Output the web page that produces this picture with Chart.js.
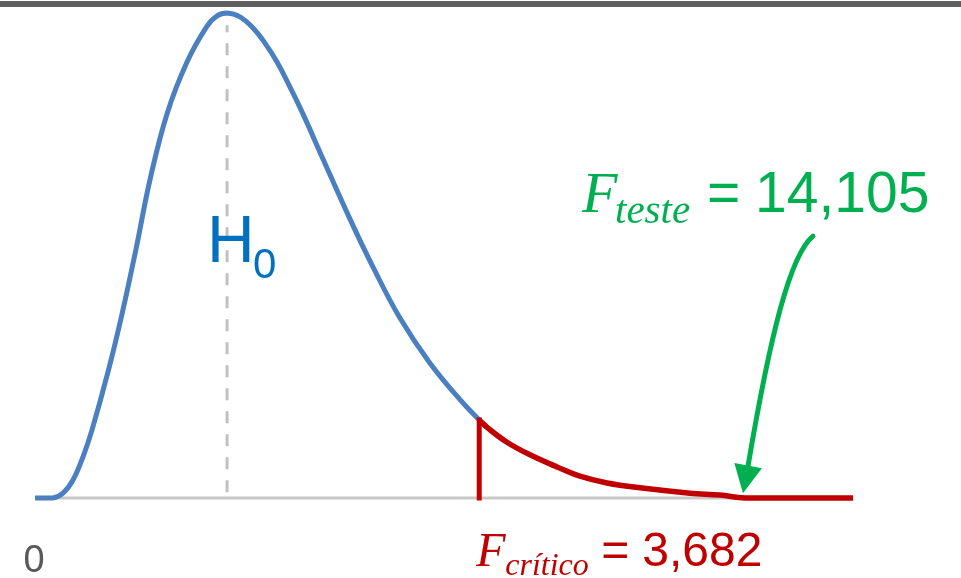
<!DOCTYPE html>
<html>
<head>
<meta charset="utf-8">
<script src="https://cdn.jsdelivr.net/npm/chart.js@4.4.1/dist/chart.umd.min.js"></script>
<style>
  body { margin: 0; background: #fff; }
  #wrap { position: relative; width: 961px; height: 578px; }
  #topbar { position: absolute; left: 0; top: 1px; width: 100%; height: 6px; background: #5f5f5f; }
</style>
</head>
<body>
<div id="wrap">
  <canvas id="fChart"></canvas>
  <div id="topbar"></div>
</div>
<script>
// F distribution under H0 (density normalised so the mode is 1)
const bodyF = [0, 0.149, 0.232, 0.315, 0.398, 0.472, 0.605, 0.721, 0.837, 0.953, 1.094, 1.260,
    1.426, 1.509, 1.592, 1.699, 1.807, 1.906, 2.006, 2.114, 2.221, 2.387, 2.611, 2.802,
    3.025, 3.274, 3.547, 3.682];
const bodyDensity = [0, 0, 0.010, 0.037, 0.085, 0.140, 0.260, 0.379, 0.513, 0.656, 0.792, 0.899,
    0.973, 0.994, 1.000, 0.992, 0.969, 0.938, 0.899, 0.847, 0.792, 0.699, 0.575, 0.476,
    0.371, 0.278, 0.196, 0.161];

// rejection region (right tail)
const tailF = [3.682, 3.755, 3.912, 4.103, 4.327, 4.517, 4.741, 5.014, 5.429, 5.678, 5.885, 6.78];
const tailDensity = [0.161, 0.144, 0.115, 0.089, 0.064, 0.045, 0.031, 0.021, 0.010, 0.006, 0, 0];

const fCritico = 3.682;
const fTeste = 14.105;
const modeF = 1.592;
const axisMax = 6.78;

// arrow pointing at the test statistic: tail, two control points, shaft end, tip
const arrowF = [6.448, 6.258, 6.092, 5.910, 5.868];
const arrowDensity = [0.540, 0.501, 0.334, 0.066, 0.010];

const fmt = v => v.toFixed(3).replace('.', ',');
const toPoints = (xs, ys) => xs.map((x, i) => ({ x, y: ys[i] }));

const labelsPlugin = {
  id: 'labels',
  afterDatasetsDraw(chart) {
    const { ctx, scales: { x, y } } = chart;
    ctx.save();

    // curved arrow
    const p = arrowF.map((f, i) => ({ x: x.getPixelForValue(f), y: y.getPixelForValue(arrowDensity[i]) }));
    ctx.strokeStyle = '#00b050';
    ctx.fillStyle = '#00b050';
    ctx.lineWidth = 5;
    ctx.lineCap = 'round';
    ctx.beginPath();
    ctx.moveTo(p[0].x, p[0].y);
    ctx.bezierCurveTo(p[1].x, p[1].y, p[2].x, p[2].y, p[3].x, p[3].y);
    ctx.stroke();
    const ang = Math.atan2(p[4].y - p[3].y, p[4].x - p[3].x);
    const len = 28, half = 14;
    const bx = p[4].x - Math.cos(ang) * len, by = p[4].y - Math.sin(ang) * len;
    ctx.beginPath();
    ctx.moveTo(p[4].x, p[4].y);
    ctx.lineTo(bx + Math.sin(ang) * half, by - Math.cos(ang) * half);
    ctx.lineTo(bx - Math.sin(ang) * half, by + Math.cos(ang) * half);
    ctx.closePath();
    ctx.fill();

    ctx.textBaseline = 'alphabetic';
    ctx.textAlign = 'left';

    // H0
    ctx.fillStyle = '#0070c0';
    ctx.font = '66px "Liberation Sans"';
    ctx.fillText('H', 207, 262);
    ctx.font = '42px "Liberation Sans"';
    ctx.fillText('0', 253, 278);

    // F teste
    ctx.fillStyle = '#00b050';
    ctx.font = 'italic 58px "Liberation Serif"';
    ctx.fillText('F', 582, 212);
    ctx.font = 'italic 41px "Liberation Serif"';
    ctx.fillText('teste', 615, 223);
    ctx.font = '57px "Liberation Sans"';
    ctx.fillText('=', 707, 212);
    ctx.fillText(fmt(fTeste), 755, 212);

    // F crítico, anchored on the critical value
    const cx = x.getPixelForValue(fCritico);
    ctx.fillStyle = '#c00000';
    ctx.font = 'italic 48px "Liberation Serif"';
    ctx.fillText('F', cx - 3, 566);
    ctx.font = 'italic 32px "Liberation Serif"';
    ctx.fillText('crítico', cx + 26, 575);
    ctx.font = '48px "Liberation Sans"';
    ctx.fillText('=', cx + 122, 566);
    ctx.fillText(fmt(fCritico), cx + 163, 566);

    // origin tick
    ctx.fillStyle = '#595959';
    ctx.font = '38px "Liberation Sans"';
    ctx.textAlign = 'center';
    ctx.fillText('0', x.getPixelForValue(0) - 1, 572);

    ctx.restore();
  }
};

new Chart(document.getElementById('fChart'), {
  type: 'scatter',
  data: {
    datasets: [
      {
        // baseline
        data: toPoints([0, axisMax], [0, 0]),
        borderColor: '#c8c8c8', borderWidth: 3, order: 5
      },
      {
        // mode marker
        data: toPoints([modeF, modeF], [0.012, 0.975]),
        borderColor: '#c0c0c0', borderWidth: 3, borderDash: [12, 11], order: 4
      },
      {
        data: toPoints(bodyF, bodyDensity),
        borderColor: '#4a7fc0', borderWidth: 5, tension: 0.4, order: 3
      },
      {
        // critical value
        data: toPoints([fCritico, fCritico], [0, tailDensity[0]]),
        borderColor: '#c00000', borderWidth: 5, borderCapStyle: 'square', order: 2
      },
      {
        data: toPoints(tailF, tailDensity),
        borderColor: '#c00000', borderWidth: 5.5, tension: 0.4, order: 1
      }
    ].map(ds => Object.assign({ showLine: true, pointRadius: 0, clip: false, borderJoinStyle: 'round' }, ds))
  },
  options: {
    responsive: true,
    maintainAspectRatio: false,
    animation: false,
    layout: { padding: { left: 35, right: 108, top: 13, bottom: 80 } },
    plugins: { legend: { display: false }, tooltip: { enabled: false } },
    scales: {
      x: { type: 'linear', min: 0, max: axisMax, display: false },
      y: { min: 0, max: 1, display: false }
    }
  },
  plugins: [labelsPlugin]
});
</script>
</body>
</html>
